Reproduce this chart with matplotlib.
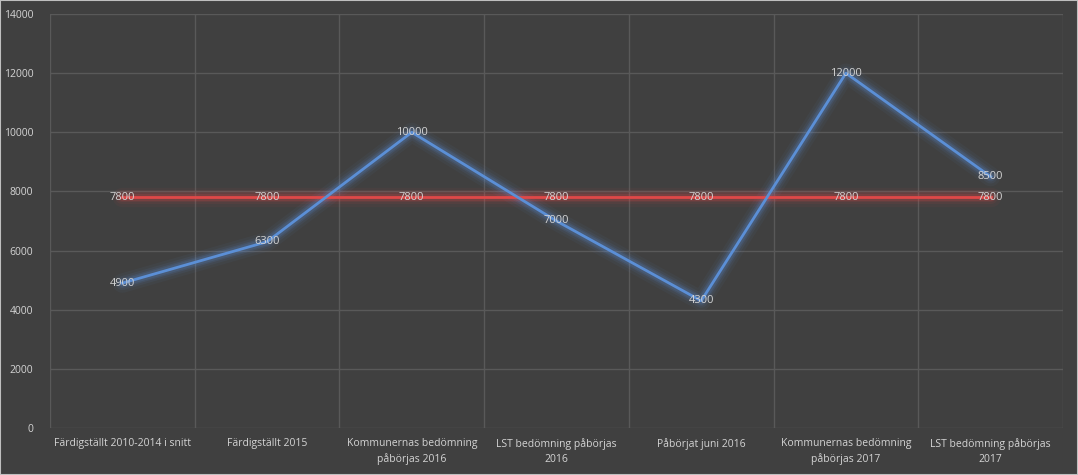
import matplotlib
matplotlib.use('Agg')
import matplotlib.pyplot as plt
import numpy as np

categories = ['Färdigställt 2010-2014 i snitt', 'Färdigställt 2015',
              'Kommunernas bedömning\npåbörjas 2016', 'LST bedömning påbörjas\n2016',
              'Påbörjat juni 2016', 'Kommunernas bedömning\npåbörjas 2017',
              'LST bedömning påbörjas\n2017']
bostader = [4900, 6300, 10000, 7000, 4300, 12000, 8500]
behov = [7800, 7800, 7800, 7800, 7800, 7800, 7800]
yticks = [0, 2000, 4000, 6000, 8000, 10000, 12000, 14000]

bg = '#404040'
grid_c = '#595959'
text_c = '#d4d4d4'
blue = '#5b8fd6'
red = '#e04848'

plt.rcParams['font.family'] = ['Open Sans', 'DejaVu Sans']

fig = plt.figure(figsize=(10.78, 4.75), dpi=100, facecolor=bg)
ax = fig.add_axes([50/1078, 1-428/475, (1063-50)/1078, (428-14)/475])
ax.set_facecolor(bg)

x = np.arange(len(categories))

# glow
for w, a in [(14, 0.05), (10, 0.08), (7, 0.12), (5, 0.16)]:
    ax.plot(x, bostader, color=blue, lw=w, alpha=a, solid_capstyle='round', zorder=2)
    ax.plot(x, behov, color=red, lw=w, alpha=a, solid_capstyle='round', zorder=2)
ax.plot(x, behov, color=red, lw=2, zorder=3)
ax.plot(x, bostader, color=blue, lw=2, zorder=4)

for xi, v in zip(x, bostader):
    ax.text(xi, v, str(v), ha='center', va='center', color=text_c, fontsize=8, zorder=5)
for xi, v in zip(x, behov):
    ax.text(xi, v, str(v), ha='center', va='center', color=text_c, fontsize=8, zorder=5)

ax.set_xlim(-0.5, len(categories) - 0.5)
ax.set_ylim(0, 14000)
ax.set_yticks(yticks)
ax.set_yticklabels([str(t) for t in yticks])
ax.set_xticks(x)
ax.set_xticklabels(categories, linespacing=1.5)
ax.set_xticks(np.arange(-0.5, len(categories)), minor=True)
ax.grid(axis='y', which='major', color=grid_c, lw=1)
ax.grid(axis='x', which='minor', color=grid_c, lw=1)
ax.set_axisbelow(True)
ax.tick_params(axis='both', which='both', length=0, colors=text_c, labelsize=7.5)
ax.tick_params(axis='y', pad=12)
ax.tick_params(axis='x', pad=7)
for s in ax.spines.values():
    s.set_visible(False)

fig.patches.append(plt.Rectangle((0, 0), 1, 1, transform=fig.transFigure,
                                 fill=False, edgecolor='#bfbfbf', lw=1.5))

fig.savefig('out.png', dpi=100, facecolor=bg)
